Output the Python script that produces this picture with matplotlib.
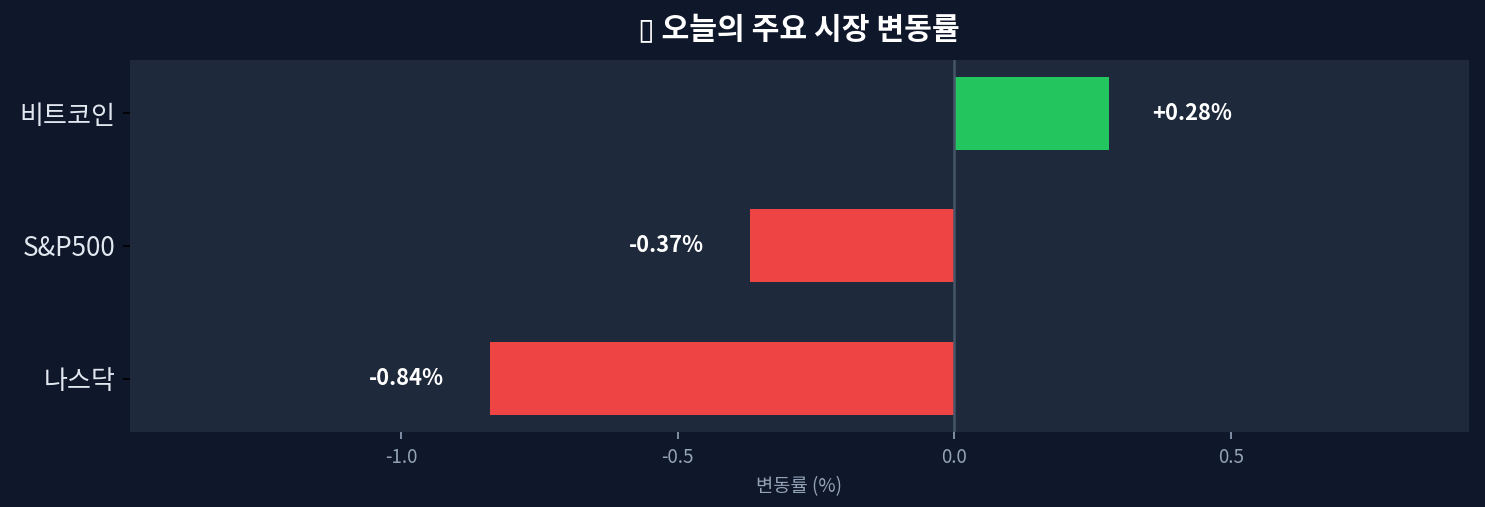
import matplotlib
matplotlib.use('Agg')
import matplotlib.pyplot as plt

plt.rcParams['font.family'] = ['Noto Sans CJK KR', 'DejaVu Sans']
plt.rcParams['axes.unicode_minus'] = False

markets = ['나스닥', 'S&P500', '비트코인']
changes = [-0.84, -0.37, 0.28]

BG = '#0f172a'
PANEL = '#1e293b'
UP = '#22c55e'
DOWN = '#ef4444'

fig, ax = plt.subplots(figsize=(9.9, 3.38), dpi=150)
fig.patch.set_facecolor(BG)
ax.set_facecolor(PANEL)
fig.subplots_adjust(left=0.0875, right=0.989, top=0.882, bottom=0.148)

colors = [UP if v >= 0 else DOWN for v in changes]
ax.barh(markets, changes, height=0.55, color=colors)
ax.axvline(0, color='#475569', lw=1.2)

for i, v in enumerate(changes):
    off = 0.15 if v >= 0 else -0.15
    ax.text(v + off, i, f'{v:+.2f}%', ha='center', va='center',
            color='white', fontsize=10.5, fontweight='bold')

ax.set_xlim(min(changes) - 0.65, max(changes) + 0.65)
ax.set_xlabel('변동률 (%)', color='#94a3b8', fontsize=9)
# the chart emoji shows as an empty box in the original, so use a box glyph
ax.set_title('▯ 오늘의 주요 시장 변동률', color='white', fontsize=14.5,
             fontweight='bold', pad=10)
ax.tick_params(axis='x', colors='#94a3b8', labelsize=9)
ax.tick_params(axis='y', colors='black', labelcolor='#e2e8f0', labelsize=12.5)
for s in ax.spines.values():
    s.set_visible(False)

fig.savefig('out.png', dpi=150, facecolor=BG)
